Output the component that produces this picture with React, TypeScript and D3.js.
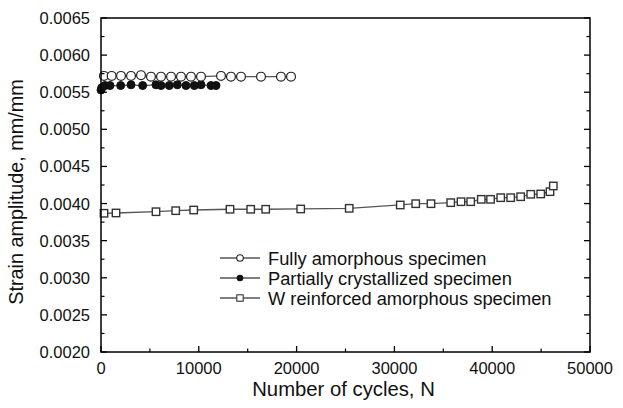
import React from "react";
import * as d3 from "d3";

const amorphN = [300, 1090, 2045, 3070, 4090, 5110, 6135, 7160, 8180, 9200, 10225, 12270, 13290, 14315, 16360, 18400, 19430];
const amorphS = [0.00572, 0.00572, 0.00572, 0.00572, 0.00573, 0.00571, 0.00571, 0.00571, 0.00571, 0.00571, 0.00571, 0.00572, 0.00571, 0.00571, 0.00571, 0.00571, 0.00571];

const crystN = [0, 70, 410, 920, 2010, 3070, 4260, 5620, 6135, 6980, 7800, 8690, 9540, 10225, 11250, 11760];
const crystS = [0.00553, 0.00556, 0.00559, 0.00559, 0.00559, 0.00560, 0.00559, 0.00560, 0.00559, 0.00559, 0.00560, 0.00559, 0.00559, 0.00560, 0.00559, 0.00559];

const wN = [307, 1534, 5624, 7638, 9479, 13190, 15307, 16840, 20420, 25380, 30600, 32180, 33740, 35760, 36810, 37800, 38880, 39830, 40870, 41890, 42910, 43940, 44960, 45910, 46250];
const wS = [0.003869, 0.003873, 0.00389, 0.003904, 0.003913, 0.003923, 0.003923, 0.003923, 0.003927, 0.003936, 0.003981, 0.003998, 0.003998, 0.004012, 0.004025, 0.004025, 0.004057, 0.004057, 0.004079, 0.004079, 0.004092, 0.004125, 0.004129, 0.00416, 0.004237];

const xTicks = [0, 10000, 20000, 30000, 40000, 50000];
const yTicks = [0.002, 0.0025, 0.003, 0.0035, 0.004, 0.0045, 0.005, 0.0055, 0.006, 0.0065];
const legendLabels = ["Fully amorphous specimen", "Partially crystallized specimen", "W reinforced amorphous specimen"];

const W = 623, H = 408;
const L = 101, R = 590, T = 18, B = 352;
const FONT = "'Liberation Sans', Arial, Helvetica, sans-serif";

export default function App() {
  const x = d3.scaleLinear().domain([0, 50000]).range([L, R]);
  const y = d3.scaleLinear().domain([0.002, 0.0065]).range([B, T]);
  const line = d3.line<[number, number]>().x(d => x(d[0])).y(d => y(d[1]));
  const am: [number, number][] = amorphN.map((n, i) => [n, amorphS[i]]);
  const cr: [number, number][] = crystN.map((n, i) => [n, crystS[i]]);
  const wr: [number, number][] = wN.map((n, i) => [n, wS[i]]);
  const xMinor = d3.range(5000, 50000, 10000);
  const yMinor = d3.range(0.00225, 0.0065, 0.0005);
  const lineColor = "#555";
  const legY = [258, 278, 298];
  return (
    <svg width={W} height={H} style={{ position: "absolute", left: 0, top: 0, background: "#fff" }} fontFamily={FONT} fill="#111">
      <rect width={W} height={H} fill="#fff" />
      <path d={line(am) || ""} fill="none" stroke={lineColor} strokeWidth={1.3} />
      <path d={line(cr) || ""} fill="none" stroke={lineColor} strokeWidth={1.3} />
      <path d={line(wr) || ""} fill="none" stroke={lineColor} strokeWidth={1.3} />
      {wr.map((d, i) => (
        <rect key={"w" + i} x={x(d[0]) - 3.7} y={y(d[1]) - 3.7} width={7.4} height={7.4} fill="#fff" stroke="#333" strokeWidth={1.4} />
      ))}
      {cr.map((d, i) => (
        <circle key={"c" + i} cx={x(d[0])} cy={y(d[1])} r={4} fill="#111" stroke="#111" strokeWidth={1} />
      ))}
      {am.map((d, i) => (
        <circle key={"a" + i} cx={x(d[0])} cy={y(d[1])} r={4.4} fill="#fff" stroke="#222" strokeWidth={1.2} />
      ))}
      <rect x={L} y={T} width={R - L} height={B - T} fill="none" stroke="#000" strokeWidth={1.5} />
      {xTicks.map(t => (
        <g key={"xt" + t}>
          <line x1={x(t)} x2={x(t)} y1={B} y2={B - 6} stroke="#000" strokeWidth={1.3} />
          <text x={x(t)} y={B + 22} textAnchor="middle" fontSize={16.5}>{t}</text>
        </g>
      ))}
      {xMinor.map(t => (
        <line key={"xm" + t} x1={x(t)} x2={x(t)} y1={B} y2={B - 3.5} stroke="#000" strokeWidth={1.2} />
      ))}
      {yTicks.map(t => (
        <g key={"yt" + t}>
          <line x1={L} x2={L + 6} y1={y(t)} y2={y(t)} stroke="#000" strokeWidth={1.3} />
          <line x1={R} x2={R - 6} y1={y(t)} y2={y(t)} stroke="#000" strokeWidth={1.3} />
          <text x={L - 11} y={y(t) + 6} textAnchor="end" fontSize={16.5}>{t.toFixed(4)}</text>
        </g>
      ))}
      {yMinor.map(t => (
        <g key={"ym" + t}>
          <line x1={L} x2={L + 3.5} y1={y(t)} y2={y(t)} stroke="#000" strokeWidth={1.2} />
          <line x1={R} x2={R - 3.5} y1={y(t)} y2={y(t)} stroke="#000" strokeWidth={1.2} />
        </g>
      ))}
      <text x={(L + R) / 2 - 2} y={396} textAnchor="middle" fontSize={20.3}>Number of cycles, N</text>
      <text transform={`translate(23, ${(T + B) / 2 + 7}) rotate(-90)`} textAnchor="middle" fontSize={19.8}>Strain amplitude, mm/mm</text>
      {legendLabels.map((lab, i) => (
        <g key={"lg" + i}>
          <line x1={220} x2={260} y1={legY[i]} y2={legY[i]} stroke={lineColor} strokeWidth={1.3} />
          {i === 0 && <circle cx={240} cy={legY[i]} r={3.3} fill="#fff" stroke="#222" strokeWidth={1.1} />}
          {i === 1 && <circle cx={240} cy={legY[i]} r={3.3} fill="#111" />}
          {i === 2 && <rect x={236.8} y={legY[i] - 3.2} width={6.4} height={6.4} fill="#fff" stroke="#333" strokeWidth={1.1} />}
          <text x={268} y={legY[i] + 6.5} fontSize={18.3}>{lab}</text>
        </g>
      ))}
    </svg>
  );
}
